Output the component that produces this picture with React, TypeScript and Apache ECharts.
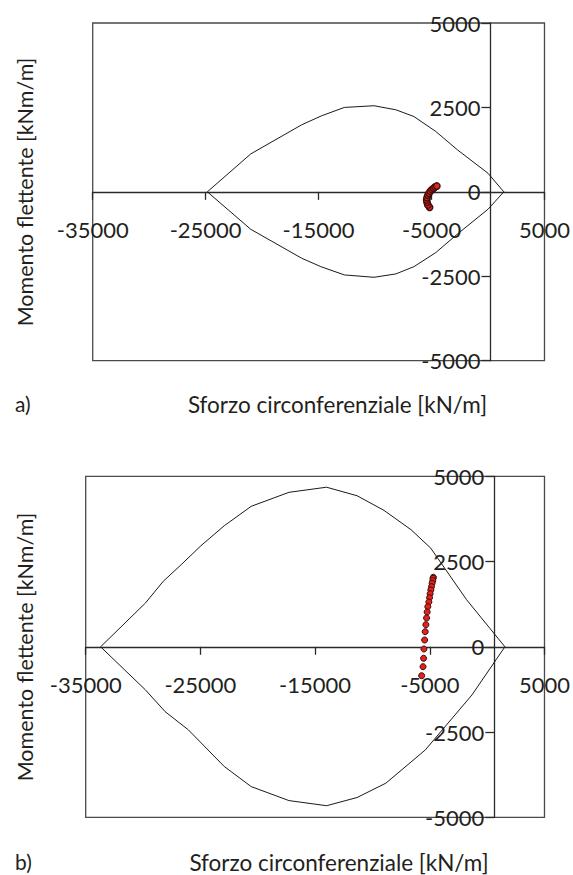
import React, { useEffect, useRef } from "react";
import * as echarts from "echarts";

// Axis settings
const X_MIN = -35000;
const X_MAX = 5000;
const X_STEP = 10000;
const Y_MIN = -5000;
const Y_MAX = 5000;
const Y_STEP = 2500;

// Panel a) interaction envelope (upper and lower branches)
const envA_upper: number[][] = [
  [-24850, 0], [-21000, 1125], [-16500, 1985], [-14750, 2250], [-12720, 2500],
  [-10090, 2550], [-8160, 2430], [-6560, 2230], [-4630, 1790], [-2710, 1245],
  [0, 550], [1400, 0],
];
const envA_lower: number[][] = [
  [-24850, 0], [-21000, -1110], [-16500, -1965], [-14800, -2215], [-12720, -2460],
  [-10090, -2530], [-8160, -2430], [-6560, -2215], [-4630, -1800], [-2710, -1250],
  [0, -515], [1400, 0],
];
// Panel a) stress states
const ptsA: number[][] = [
  [-5172, -457], [-5321, -389], [-5400, -310], [-5430, -241], [-5400, -173],
  [-5321, -102], [-5233, -43], [-5116, 16], [-4970, 64], [-4820, 105],
  [-4680, 144], [-4530, 173],
];

// Panel b) interaction envelope
const envB_upper: number[][] = [
  [-33700, 0], [-29800, 1280], [-28240, 1920], [-26670, 2410], [-24950, 2965],
  [-22920, 3550], [-20570, 4120], [-17280, 4530], [-14000, 4680], [-11340, 4430],
  [-8990, 4000], [-6640, 3435], [-4920, 2895], [-1790, 1380], [1550, 0],
];
const envB_lower: number[][] = [
  [-33700, 0], [-29800, -1260], [-28080, -1900], [-26050, -2435], [-22920, -3510],
  [-20570, -4100], [-17280, -4510], [-14000, -4660], [-11340, -4420], [-8830, -4000],
  [-5390, -3025], [-1320, -1410], [1550, 0],
];
// Panel b) stress states
const ptsB: number[][] = [
  [-4690, 2040], [-4714, 2009], [-4740, 1939], [-4800, 1862], [-4850, 1763],
  [-4910, 1666], [-4970, 1557], [-5020, 1440], [-5080, 1314], [-5170, 1176],
  [-5230, 1021], [-5280, 845], [-5340, 648], [-5400, 443], [-5450, 199],
  [-5510, -65], [-5540, -337], [-5590, -584], [-5710, -848],
];

const X_TITLE = "Sforzo circonferenziale [kN/m]";
const Y_TITLE = "Momento flettente [kNm/m]";
const FONT = "Lato";
const TXT = "#231f20";

const closed = (up: number[][], lo: number[][]) => [...up, ...lo.slice().reverse()];

export default function App() {
  const ref = useRef<HTMLDivElement>(null);
  useEffect(() => {
    if (!ref.current) return;
    const chart = echarts.init(ref.current, undefined, { renderer: "svg" });
    const grids = [
      { left: 92.7, top: 23, width: 454.6, height: 337.7 },
      { left: 85.7, top: 476.3, width: 467, height: 341 },
    ];
    // shift axes so that they cross at (0, 0) inside each box
    const xOffset = grids.map((g) => -(g.height * (0 - Y_MIN)) / (Y_MAX - Y_MIN));
    const yOffset = grids.map((g) => -(g.width * (0 - X_MIN)) / (X_MAX - X_MIN));
    const axisLineStyle = { color: "#2a2a2a", width: 1.3 };
    chart.setOption({
      animation: false,
      backgroundColor: "#ffffff",
      textStyle: { fontFamily: FONT },
      grid: grids.map((g) => ({
        ...g,
        show: true,
        borderColor: "#4a4a4a",
        borderWidth: 1.3,
        backgroundColor: "transparent",
      })),
      xAxis: [0, 1].map((i) => ({
        gridIndex: i,
        type: "value",
        position: "bottom",
        offset: xOffset[i],
        min: X_MIN,
        max: X_MAX,
        interval: X_STEP,
        axisLine: { show: true, onZero: false, lineStyle: axisLineStyle },
        axisTick: { show: true, inside: false, length: 8, lineStyle: axisLineStyle },
        axisLabel: {
          show: true,
          margin: 27,
          fontSize: 22,
          color: TXT,
          fontFamily: FONT,
          formatter: (v: number) => String(v),
        },
        splitLine: { show: false },
      })),
      yAxis: [0, 1].map((i) => ({
        gridIndex: i,
        type: "value",
        position: "left",
        offset: yOffset[i],
        min: Y_MIN,
        max: Y_MAX,
        interval: Y_STEP,
        axisLine: { show: true, onZero: false, lineStyle: axisLineStyle },
        axisTick: { show: true, inside: false, length: 9, lineStyle: axisLineStyle },
        axisLabel: {
          show: true,
          margin: 10,
          fontSize: 22,
          color: TXT,
          fontFamily: FONT,
          formatter: (v: number) => String(v),
        },
        splitLine: { show: false },
      })),
      series: [
        {
          type: "line",
          xAxisIndex: 0,
          yAxisIndex: 0,
          data: closed(envA_upper, envA_lower),
          symbol: "none",
          lineStyle: { color: "#1a1a1a", width: 1 },
          z: 2,
        },
        {
          type: "scatter",
          xAxisIndex: 0,
          yAxisIndex: 0,
          data: ptsA,
          symbolSize: 6.5,
          itemStyle: { color: "#e3221b", borderColor: "#3a0c0c", borderWidth: 1.3, opacity: 1 },
          z: 3,
        },
        {
          type: "line",
          xAxisIndex: 1,
          yAxisIndex: 1,
          data: closed(envB_upper, envB_lower),
          symbol: "none",
          lineStyle: { color: "#1a1a1a", width: 1 },
          z: 2,
        },
        {
          type: "scatter",
          xAxisIndex: 1,
          yAxisIndex: 1,
          data: ptsB,
          symbolSize: 6,
          itemStyle: { color: "#e3221b", borderColor: "#3a0c0c", borderWidth: 1, opacity: 1 },
          z: 3,
        },
      ],
      graphic: [
        { type: "text", x: 15, y: 403, style: { text: "a)", fontSize: 21, fontFamily: FONT, fill: TXT, align: "left", verticalAlign: "middle" } },
        { type: "text", x: 337.5, y: 404, style: { text: X_TITLE, fontSize: 22.5, fontFamily: FONT, fill: TXT, align: "center", verticalAlign: "middle" } },
        { type: "text", x: 25, y: 192, rotation: Math.PI / 2, style: { text: Y_TITLE, fontSize: 21.5, fontFamily: FONT, fill: TXT, align: "center", verticalAlign: "middle" } },
        { type: "text", x: 15, y: 861, style: { text: "b)", fontSize: 21, fontFamily: FONT, fill: TXT, align: "left", verticalAlign: "middle" } },
        { type: "text", x: 339, y: 862, style: { text: X_TITLE, fontSize: 22.5, fontFamily: FONT, fill: TXT, align: "center", verticalAlign: "middle" } },
        { type: "text", x: 25, y: 647, rotation: Math.PI / 2, style: { text: Y_TITLE, fontSize: 21.5, fontFamily: FONT, fill: TXT, align: "center", verticalAlign: "middle" } },
      ],
    });
    return () => chart.dispose();
  }, []);
  return (
    <div
      ref={ref}
      style={{ position: "absolute", left: 0, top: 0, width: 573, height: 875 }}
    />
  );
}
